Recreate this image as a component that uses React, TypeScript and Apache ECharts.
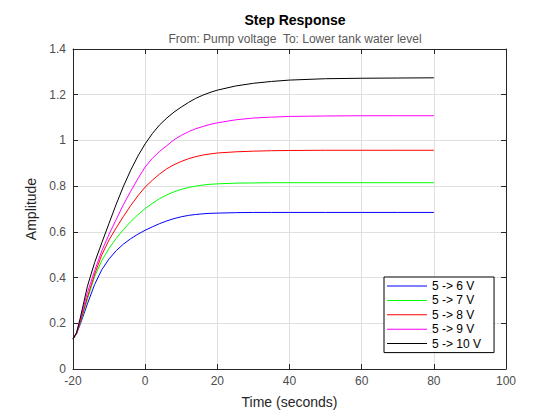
import React, { useEffect, useRef } from "react";
import * as echarts from "echarts";

const times = [-20, -19, -18, -16, -14, -12, -10, -8, -6, -4, -2, 0, 2, 4, 6, 8, 10, 12, 14, 16, 18, 20, 25, 30, 35, 40, 50, 60, 70, 80];

const blue6V = [0.131, 0.155, 0.195, 0.285, 0.37, 0.435, 0.482, 0.518, 0.547, 0.57, 0.59, 0.607, 0.622, 0.636, 0.648, 0.658, 0.666, 0.672, 0.676, 0.679, 0.681, 0.682, 0.684, 0.685, 0.685, 0.685, 0.685, 0.685, 0.685, 0.685];
const green7V = [0.131, 0.155, 0.2, 0.305, 0.405, 0.475, 0.528, 0.572, 0.61, 0.645, 0.675, 0.702, 0.725, 0.745, 0.762, 0.775, 0.786, 0.794, 0.8, 0.805, 0.808, 0.81, 0.813, 0.814, 0.815, 0.815, 0.815, 0.815, 0.815, 0.815];
const red8V = [0.131, 0.155, 0.205, 0.315, 0.415, 0.5, 0.565, 0.618, 0.668, 0.715, 0.758, 0.796, 0.826, 0.853, 0.876, 0.894, 0.908, 0.92, 0.929, 0.936, 0.941, 0.945, 0.95, 0.953, 0.955, 0.956, 0.957, 0.957, 0.957, 0.957];
const magenta9V = [0.131, 0.158, 0.215, 0.335, 0.43, 0.518, 0.59, 0.655, 0.72, 0.778, 0.833, 0.884, 0.922, 0.952, 0.977, 1.003, 1.022, 1.038, 1.051, 1.061, 1.07, 1.077, 1.09, 1.098, 1.102, 1.105, 1.107, 1.108, 1.108, 1.108];
const black10V = [0.131, 0.16, 0.222, 0.362, 0.466, 0.553, 0.638, 0.722, 0.8, 0.87, 0.932, 0.985, 1.03, 1.068, 1.098, 1.124, 1.146, 1.166, 1.184, 1.198, 1.21, 1.22, 1.238, 1.25, 1.258, 1.264, 1.27, 1.272, 1.273, 1.274];

const seriesNames = ["5 -> 6 V", "5 -> 7 V", "5 -> 8 V", "5 -> 9 V", "5 -> 10 V"];
const seriesValues = [blue6V, green7V, red8V, magenta9V, black10V];
const seriesColors = ["#0000ff", "#00ff00", "#ff0000", "#ff00ff", "#000000"];

const xTicks = [-20, 0, 20, 40, 60, 80, 100];
const yTicks = [0, 0.2, 0.4, 0.6, 0.8, 1, 1.2, 1.4];

const FONT = "Liberation Sans, Arial, sans-serif";
const AXIS_COLOR = "#262626";
const LABEL_COLOR = "#4d4d4d";
const GRID_COLOR = "#dfdfdf";

export default function App() {
  const ref = useRef<HTMLDivElement>(null);

  useEffect(() => {
    if (!ref.current) return;
    const chart = echarts.init(ref.current, null, { renderer: "svg" });

    const axisCommon = {
      axisLine: { show: true, onZero: false, lineStyle: { color: AXIS_COLOR, width: 1 } },
      axisTick: { show: true, inside: true, length: 5, lineStyle: { color: AXIS_COLOR } },
    };

    chart.setOption({
      animation: false,
      backgroundColor: "#ffffff",
      textStyle: { fontFamily: FONT },
      title: {
        text: "Step Response",
        subtext: "From: Pump voltage  To: Lower tank water level",
        left: 290,
        top: 8,
        textAlign: "center",
        itemGap: 6,
        textStyle: { fontFamily: FONT, fontSize: 14, fontWeight: "bold", color: "#000000" },
        subtextStyle: { fontFamily: FONT, fontSize: 12, color: "#595959" },
      },
      grid: { left: 73, right: 54, top: 49, bottom: 51, containLabel: false },
      legend: {
        orient: "vertical",
        left: 384,
        top: 277,
        data: seriesNames.map((name, i) => ({
          name,
          icon: "rect",
          itemStyle: { color: seriesColors[i] },
        })),
        itemWidth: 40,
        itemHeight: 1,
        itemGap: 2.4,
        padding: [3, 13, 3, 3],
        borderColor: "#000000",
        borderWidth: 1,
        borderRadius: 0,
        backgroundColor: "#ffffff",
        textStyle: { fontFamily: FONT, fontSize: 12, color: "#000000", lineHeight: 12 },
      },
      xAxis: [
        {
          type: "value",
          min: -20,
          max: 100,
          interval: 20,
          position: "bottom",
          name: "Time (seconds)",
          nameLocation: "middle",
          nameGap: 26,
          nameTextStyle: { fontFamily: FONT, fontSize: 14, color: AXIS_COLOR },
          ...axisCommon,
          axisLabel: {
            show: true,
            margin: 6,
            fontFamily: FONT,
            fontSize: 12,
            color: LABEL_COLOR,
            formatter: (v: number) => String(xTicks.find((t) => Math.abs(t - v) < 1e-6) ?? v),
          },
          splitLine: { show: true, lineStyle: { color: GRID_COLOR, width: 1 } },
        },
        {
          type: "value",
          min: -20,
          max: 100,
          interval: 20,
          position: "top",
          ...axisCommon,
          axisLabel: { show: false },
          splitLine: { show: false },
        },
      ],
      yAxis: [
        {
          type: "value",
          min: 0,
          max: 1.4,
          interval: 0.2,
          position: "left",
          name: "Amplitude",
          nameLocation: "middle",
          nameGap: 24,
          nameTextStyle: { fontFamily: FONT, fontSize: 14, color: AXIS_COLOR },
          ...axisCommon,
          axisLabel: {
            show: true,
            margin: 7,
            fontFamily: FONT,
            fontSize: 12,
            color: LABEL_COLOR,
            formatter: (v: number) => {
              const t = yTicks.find((y) => Math.abs(y - v) < 1e-6);
              return String(t !== undefined ? t : v);
            },
          },
          splitLine: { show: true, lineStyle: { color: GRID_COLOR, width: 1 } },
        },
        {
          type: "value",
          min: 0,
          max: 1.4,
          interval: 0.2,
          position: "right",
          ...axisCommon,
          axisLabel: { show: false },
          splitLine: { show: false },
        },
      ],
      series: seriesNames.map((name, i) => ({
        name,
        type: "line",
        xAxisIndex: 0,
        yAxisIndex: 0,
        data: times.map((t, j) => [t, seriesValues[i][j]]),
        showSymbol: false,
        symbol: "none",
        smooth: false,
        lineStyle: { color: seriesColors[i], width: 1 },
        itemStyle: { color: seriesColors[i] },
        z: 2 + i,
      })),
    });

    return () => chart.dispose();
  }, []);

  return (
    <div
      ref={ref}
      style={{ position: "fixed", left: 0, top: 0, width: 560, height: 420, background: "#ffffff" }}
    />
  );
}
